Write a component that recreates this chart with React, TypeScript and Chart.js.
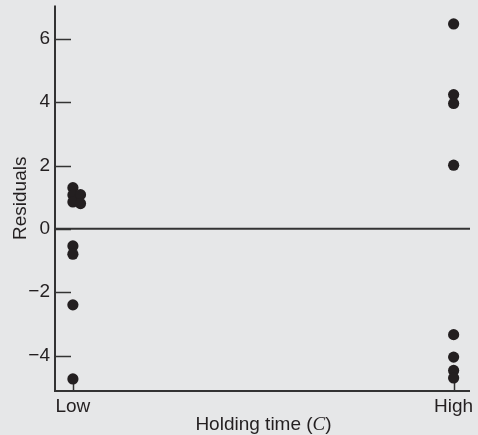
import React, { useEffect, useRef } from "react";
import { Chart, registerables } from "chart.js";

Chart.register(...registerables);

// ---- data ----
const categories = ["Low", "High"];
const categoryPositions = [0, 1];
const lowResiduals = [1.3, 1.07, 0.85, -0.54, -0.8, -2.4, -4.74];
const lowResidualsJittered = [1.08, 0.8];
const lowJitter = 0.02;
const highResiduals = [6.47, 4.24, 3.96, 2.01, -3.34, -4.05, -4.47, -4.71];
const yTickValues = [-4, -2, 0, 2, 4, 6];
const yTitle = "Residuals";
const xTitleParts = ["Holding time (", "C", ")"];

const BG = "#e6e7e8";
const INK = "#231f20";
const AXIS = "#333333";
const FONT = "'Liberation Sans', Arial, Helvetica, sans-serif";
const FS = 19;

const axesPlugin = {
  id: "axesPlugin",
  beforeDraw(chart: any) {
    const { ctx, width, height } = chart;
    ctx.save();
    ctx.fillStyle = BG;
    ctx.fillRect(0, 0, width, height);
    ctx.restore();
  },
  beforeDatasetsDraw(chart: any) {
    const { ctx, chartArea, scales } = chart;
    const x = scales.x;
    const y = scales.y;
    ctx.save();
    ctx.strokeStyle = AXIS;
    ctx.lineWidth = 2;
    ctx.lineCap = "butt";
    // left axis
    ctx.beginPath();
    ctx.moveTo(chartArea.left, chartArea.top);
    ctx.lineTo(chartArea.left, chartArea.bottom + 1);
    ctx.stroke();
    // bottom axis
    ctx.beginPath();
    ctx.moveTo(chartArea.left - 1, chartArea.bottom);
    ctx.lineTo(chartArea.right, chartArea.bottom);
    ctx.stroke();
    // zero line
    const y0 = y.getPixelForValue(0);
    ctx.beginPath();
    ctx.moveTo(chartArea.left, y0);
    ctx.lineTo(chartArea.right, y0);
    ctx.stroke();
    // inward y ticks
    ctx.lineWidth = 1.5;
    yTickValues.forEach((v) => {
      const py = Math.round(y.getPixelForValue(v)) + 0.5;
      ctx.beginPath();
      ctx.moveTo(chartArea.left, py);
      ctx.lineTo(chartArea.left + 16, py);
      ctx.stroke();
    });
    // upward x ticks
    categoryPositions.forEach((v) => {
      const px = Math.round(x.getPixelForValue(v)) + 0.5;
      ctx.beginPath();
      ctx.moveTo(px, chartArea.bottom);
      ctx.lineTo(px, chartArea.bottom - 9);
      ctx.stroke();
    });
    ctx.restore();
  },
  afterDraw(chart: any) {
    const { ctx, chartArea } = chart;
    ctx.save();
    ctx.fillStyle = INK;
    ctx.textBaseline = "alphabetic";
    const fonts = [
      `${FS}px ${FONT}`,
      `italic ${FS}px 'Liberation Serif', 'Times New Roman', serif`,
      `${FS}px ${FONT}`,
    ];
    const widths = xTitleParts.map((t, i) => {
      ctx.font = fonts[i];
      return ctx.measureText(t).width;
    });
    const total = widths.reduce((a, b) => a + b, 0);
    let cx = (chartArea.left + chartArea.right) / 2 + 1 - total / 2;
    xTitleParts.forEach((t, i) => {
      ctx.font = fonts[i];
      ctx.fillText(t, cx, 429.5);
      cx += widths[i];
    });
    ctx.restore();
  },
};

export default function App() {
  const ref = useRef<HTMLCanvasElement | null>(null);

  useEffect(() => {
    document.body.style.margin = "0";
    document.body.style.background = BG;
    if (!ref.current) return;
    const points: { x: number; y: number }[] = [];
    lowResiduals.forEach((v) => points.push({ x: categoryPositions[0], y: v }));
    lowResidualsJittered.forEach((v) =>
      points.push({ x: categoryPositions[0] + lowJitter, y: v })
    );
    highResiduals.forEach((v) => points.push({ x: categoryPositions[1], y: v }));

    const chart = new Chart(ref.current, {
      type: "scatter",
      data: {
        datasets: [
          {
            data: points,
            pointRadius: 5.6,
            pointHoverRadius: 5.6,
            pointBackgroundColor: INK,
            pointBorderColor: INK,
            pointBorderWidth: 0,
            showLine: false,
          },
        ],
      },
      options: {
        animation: false,
        responsive: false,
        maintainAspectRatio: false,
        events: [],
        layout: { padding: { top: 4, right: 8, left: 0, bottom: 0 } },
        plugins: {
          legend: { display: false },
          tooltip: { enabled: false },
        },
        scales: {
          x: {
            type: "linear",
            min: -0.047,
            max: 1.043,
            afterBuildTicks: (s: any) => {
              s.ticks = categoryPositions.map((v) => ({ value: v }));
            },
            afterFit: (s: any) => {
              s.height = 44;
              s.paddingLeft = 0;
              s.paddingRight = 0;
            },
            grid: { display: false, drawTicks: false },
            border: { display: false },
            ticks: {
              padding: 4,
              color: INK,
              font: { family: FONT, size: FS, lineHeight: 1.2 },
              maxRotation: 0,
              autoSkip: false,
              callback: (v: any) => categories[categoryPositions.indexOf(Number(v))] ?? "",
            },
            title: { display: false },
          },
          y: {
            type: "linear",
            min: -5.12,
            max: 7.05,
            afterBuildTicks: (s: any) => {
              s.ticks = yTickValues.map((v) => ({ value: v }));
            },
            afterFit: (s: any) => {
              s.width = 55;
              s.paddingTop = 0;
              s.paddingBottom = 0;
            },
            grid: { display: false, drawTicks: false },
            border: { display: false },
            ticks: {
              padding: 5,
              color: INK,
              font: { family: FONT, size: FS, lineHeight: 1.2 },
              callback: (v: any) => (Number(v) < 0 ? "\u2212" + Math.abs(Number(v)) : String(v)),
            },
            title: {
              display: true,
              text: yTitle,
              color: INK,
              font: { family: FONT, size: FS, lineHeight: 1.2 },
              padding: { top: 9, bottom: 0 },
            },
          },
        },
      },
      plugins: [axesPlugin],
    });
    return () => chart.destroy();
  }, []);

  return (
    <div style={{ position: "fixed", left: 0, top: 0, width: 478, height: 435, background: BG }}>
      <canvas ref={ref} width={478} height={435} style={{ display: "block", width: 478, height: 435 }} />
    </div>
  );
}
